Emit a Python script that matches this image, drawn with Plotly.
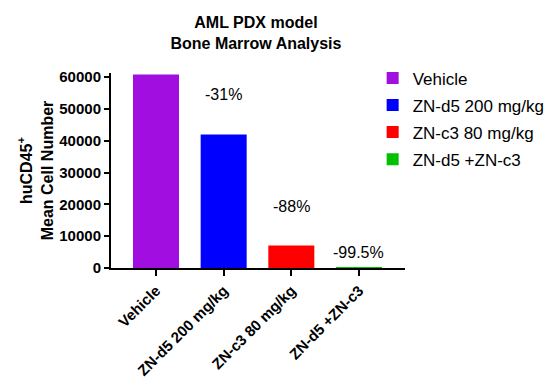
import plotly.graph_objects as go

categories = ["Vehicle", "ZN-d5 200 mg/kg", "ZN-c3 80 mg/kg", "ZN-d5 +ZN-c3"]
values = [60800, 42000, 7100, 300]
pct_labels = ["", "-31%", "-88%", "-99.5%"]
colors = ["#A00FE0", "#0000FF", "#FF0000", "#00C000"]
label_shift = [0, 40, 39, 15]

FONT = "Liberation Sans, Arial"

fig = go.Figure()
for c, v, col in zip(categories, values, colors):
    fig.add_trace(go.Bar(x=[c], y=[v], name=c, legendgroup=c,
                         marker=dict(color=col, line=dict(width=0)), width=0.68))

for c, v, lab, s in zip(categories, values, pct_labels, label_shift):
    if lab:
        fig.add_annotation(x=c, y=v, text=lab, showarrow=False, yshift=s,
                           font=dict(size=16, color="black", family=FONT))

fig.update_layout(
    width=554, height=386,
    barmode="overlay",
    plot_bgcolor="white", paper_bgcolor="white",
    margin=dict(l=111, r=149, t=73, b=118, autoexpand=False),
    font=dict(family=FONT, color="black"),
    title=dict(text="<b>AML PDX model<br>Bone Marrow Analysis</b>", x=0.462, xanchor="center",
               y=0.928, yanchor="top", font=dict(size=16, family=FONT)),
    legend=dict(x=0.89, y=1.065, xanchor="left", yanchor="top", font=dict(size=17),
                traceorder="grouped", tracegroupgap=2, bgcolor="rgba(0,0,0,0)"),
    showlegend=True,
)
fig.update_xaxes(range=[-0.665, 3.68], showline=True, linecolor="black", linewidth=2,
                 ticks="outside", ticklen=6, tickwidth=2, tickcolor="black",
                 tickangle=-45, tickfont=dict(size=15, family=FONT),
                 showgrid=False, zeroline=False, automargin=False,
                 tickvals=categories, ticktext=[f"<b>{c}</b>" for c in categories])
yt = [0, 10000, 20000, 30000, 40000, 50000, 60000]
fig.update_yaxes(range=[0, 61300], showline=True, linecolor="black", linewidth=2,
                 ticks="outside", ticklen=5, tickwidth=2, tickcolor="black",
                 tickvals=yt, ticktext=[f"<b>{t}</b>" for t in yt],
                 tickfont=dict(size=15), showgrid=False, zeroline=False, automargin=False,
                 title=dict(text="<b>huCD45<sup>+</sup><br>Mean Cell Number</b>",
                            font=dict(size=16), standoff=2))

fig.write_html("out.html", config={"displayModeBar": False},
               post_script="document.body.style.margin='0';")
